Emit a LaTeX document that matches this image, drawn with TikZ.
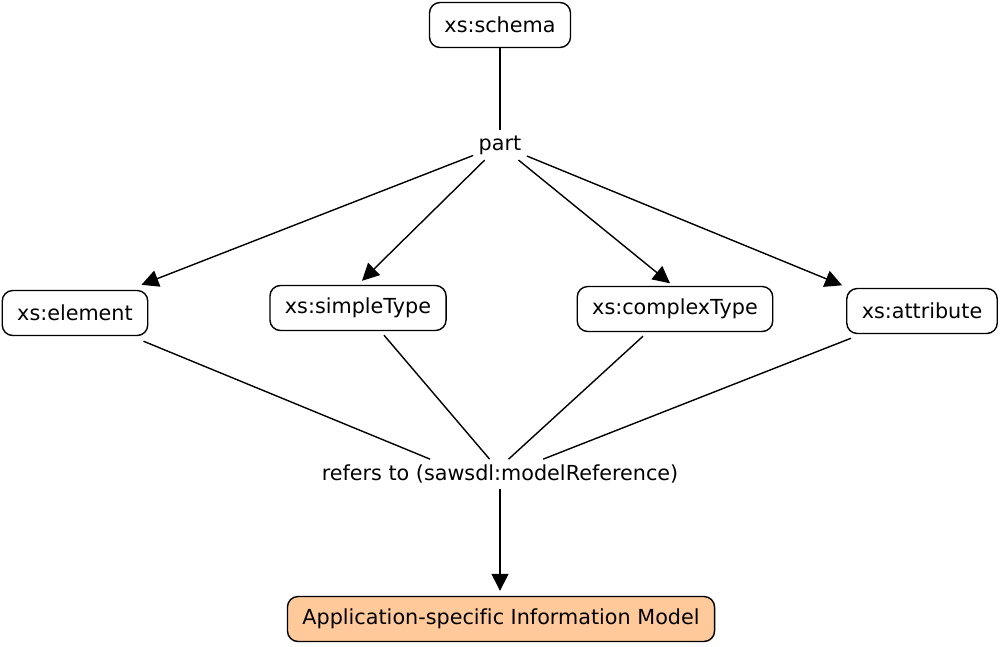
\documentclass[tikz,border=0pt]{standalone}
\usepackage{fontspec}
\setmainfont[Ligatures={NoCommon}]{DejaVu Sans}
\usetikzlibrary{arrows.meta}
\definecolor{Peach}{HTML}{FFC999}

\begin{document}
\begin{tikzpicture}[x=0.02cm,y=-0.02cm,
  font=\fontsize{11.8}{14}\selectfont,
  box/.style={draw=black,line width=0.8pt,rounded corners=6pt,fill=white,
    inner xsep=0.3cm,minimum height=0.9cm},
  lbl/.style={inner sep=3pt},
  arrow/.style={-{Triangle[length=3.4mm,width=3.4mm]},line width=0.8pt},
  link/.style={line width=0.8pt}]
\useasboundingbox (0,0) rectangle (1000,646);
\node[box](schema) at (500,25){xs:schema};
\node[lbl](part) at (500,145){part};
\node[box](element) at (75,313){xs:element};
\node[box](simple) at (358,308){xs:simpleType};
\node[box](complex) at (675,309){xs:complexType};
\node[box](attribute) at (922,311){xs:attribute};
\node[lbl](refers) at (500,474){refers to (sawsdl:modelReference)};
\node[box,fill=Peach](model) at (501,619){Application-specific Information Model};
% schema to its parts
\draw[link](schema)--(part);
\draw[arrow](part)--([shift={(-0.14cm,0.1cm)}]element.north east);
\draw[arrow](part)--([shift={(0.08cm,0.08cm)}]simple.north);
\draw[arrow](part)--([shift={(-0.1cm,0.05cm)}]complex.north);
\draw[arrow](part)--([shift={(-0.08cm,0.05cm)}]attribute.north west);
% parts to the model reference
\draw[link]([xshift=-0.1cm,yshift=-0.1cm]element.south east)--(refers.168);
\draw[link]([xshift=0.52cm,yshift=-0.08cm]simple.south)--(refers.125);
\draw[link]([xshift=-0.64cm,yshift=-0.08cm]complex.south)--(refers.60);
\draw[link]([xshift=0.1cm,yshift=-0.08cm]attribute.south west)--(refers.19);
\draw[arrow](refers.south)--([yshift=0.1cm]refers.south |- model.north);
\end{tikzpicture}
\end{document}
